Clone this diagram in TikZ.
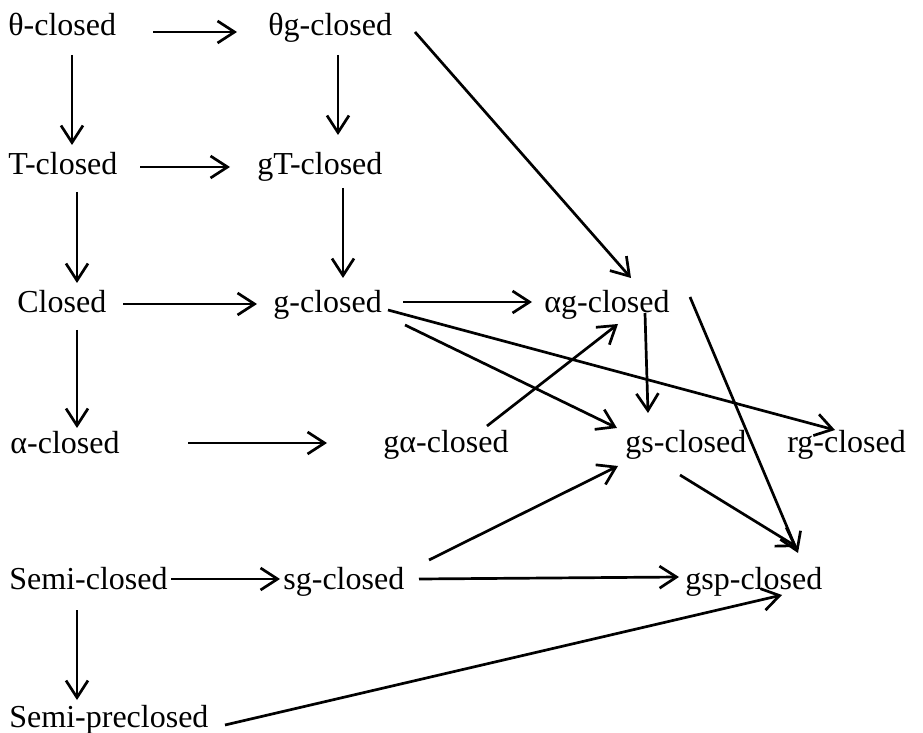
\documentclass[tikz,border=0pt]{standalone}
\usepackage{fontspec}
\setmainfont{Liberation Serif}
\usetikzlibrary{arrows.meta}
\begin{document}
\begin{tikzpicture}[x=0.5pt,y=-0.5pt,
  lbl/.style={inner sep=0pt,anchor=base west,font=\fontsize{16}{19}\selectfont},
  arr/.style={line width=1.35pt,-{Straight Barb[length=8.5pt,width=11pt,line width=1.35pt]}}]
\useasboundingbox (0,0) rectangle (923,733);
\node[lbl] (t1) at (8,36) {θ-closed};
\node[lbl] (t2) at (268,36) {θg-closed};
\node[lbl] (r1) at (8,175) {T-closed};
\node[lbl] (r2) at (257,175) {gT-closed};
\node[lbl] (c1) at (17,313) {Closed};
\node[lbl] (c2) at (273,313) {g-closed};
\node[lbl] (c3) at (544,313) {αg-closed};
\node[lbl] (a1) at (10,453) {α-closed};
\node[lbl] (a2) at (383,452) {gα-closed};
\node[lbl] (a3) at (625,452) {gs-closed};
\node[lbl] (a4) at (787,452) {rg-closed};
\node[lbl] (s1) at (9,589) {Semi-closed};
\node[lbl] (s2) at (283,589) {sg-closed};
\node[lbl] (s3) at (685,589) {gsp-closed};
\node[lbl] (p1) at (9,727) {Semi-preclosed};

\draw[arr] ([shift={(145,-4)}]t1.base west) -- ([shift={(-31,-4)}]t2.base west);
\draw[arr] ([shift={(64,19)}]t1.base west) -- ([shift={(64,-30)}]r1.base west);
\draw[arr] ([shift={(70,19)}]t2.base west) -- ([shift={(81,-40)}]r2.base west);
\draw[arr] ([shift={(132,-8)}]r1.base west) -- ([shift={(-27,-8)}]r2.base west);
\draw[arr] ([shift={(69,17)}]r1.base west) -- ([shift={(60,-30)}]c1.base west);
\draw[arr] ([shift={(86,13)}]r2.base west) -- ([shift={(70,-35)}]c2.base west);
\draw[arr] ([shift={(106,-9)}]c1.base west) -- ([shift={(-16,-9)}]c2.base west);
\draw[arr] ([shift={(60,17)}]c1.base west) -- ([shift={(67,-25)}]a1.base west);
\draw[arr] ([shift={(130,-11)}]c2.base west) -- ([shift={(-12,-11)}]c3.base west);
\draw[arr] ([shift={(115,-3)}]c2.base west) -- ([shift={(48,-22)}]a4.base west);
\draw[arr] ([shift={(132,12)}]c2.base west) -- ([shift={(-8,-24)}]a3.base west);
\draw[arr] ([shift={(104,-26)}]a2.base west) -- ([shift={(74,11)}]c3.base west);
\draw[arr] ([shift={(101,0)}]c3.base west) -- ([shift={(23,-39)}]a3.base west);
\draw[arr] ([shift={(147,-4)}]t2.base west) -- ([shift={(87,-35)}]c3.base west);
\draw[arr] ([shift={(146,-16)}]c3.base west) -- ([shift={(113,-36)}]s3.base west);
\draw[arr] ([shift={(55,23)}]a3.base west) -- ([shift={(112,-42)}]s3.base west);
\draw[arr] ([shift={(178,-10)}]a1.base west) -- ([shift={(-56,-9)}]a2.base west);
\draw[arr] ([shift={(162,-10)}]s1.base west) -- ([shift={(-3,-10)}]s2.base west);
\draw[arr] ([shift={(146,-29)}]s2.base west) -- ([shift={(-7,14)}]a3.base west);
\draw[arr] ([shift={(136,-10)}]s2.base west) -- ([shift={(-6,-12)}]s3.base west);
\draw[arr] ([shift={(68,21)}]s1.base west) -- ([shift={(68,-27)}]p1.base west);
\draw[arr] ([shift={(216,-2)}]p1.base west) -- ([shift={(97,6)}]s3.base west);
\end{tikzpicture}
\end{document}
